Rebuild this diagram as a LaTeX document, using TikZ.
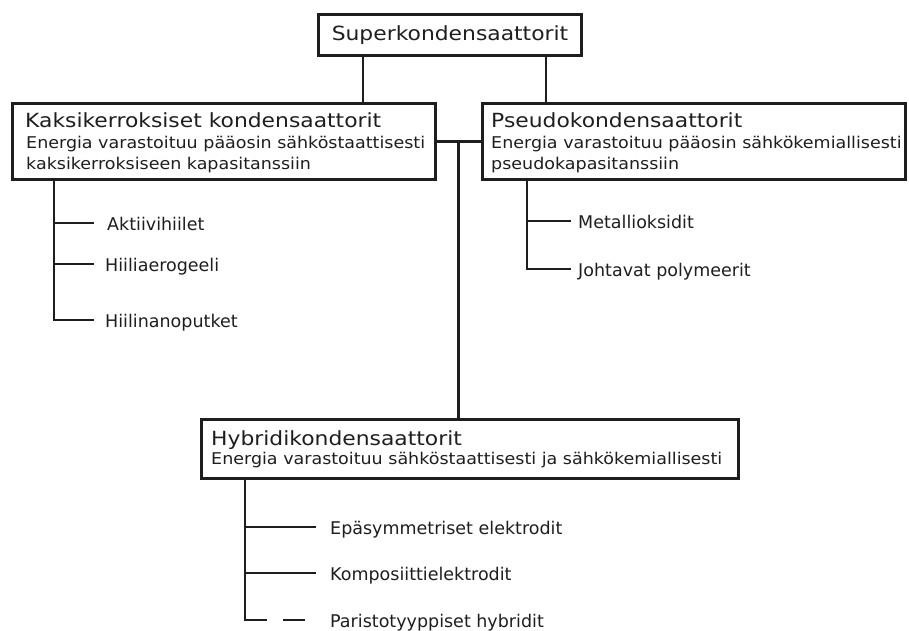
\documentclass[tikz,border=0pt]{standalone}
\usepackage{fontspec}
\usetikzlibrary{calc}
\newfontfamily\titlefont[FakeStretch=1.12]{DejaVu Sans}
\newfontfamily\subfont[FakeStretch=1.08]{DejaVu Sans}
\newfontfamily\leaffont{DejaVu Sans}
\definecolor{ink}{HTML}{1E1E1E}
\begin{document}
\begin{tikzpicture}[x=1pt,y=-1pt,
  box/.style={draw=ink, line width=3pt, rectangle, inner sep=0pt},
  ttl/.style={anchor=base west, inner sep=0pt, font=\fontsize{19.5}{21}\titlefont, text=ink},
  sub/.style={anchor=base west, inner sep=0pt, align=left, font=\fontsize{16.2}{21}\subfont, text=ink},
  leaf/.style={anchor=base west, inner sep=0pt, font=\fontsize{17.5}{21}\leaffont, text=ink},
  conn/.style={draw=ink, line width=2.7pt}]
\useasboundingbox (0,0) rectangle (909,630);

% boxes
\node[box, minimum width=263pt, minimum height=41pt, font=\fontsize{19.5}{21}\titlefont, text=ink] (super) at (450,35) {Superkondensaattorit};

\node[box, minimum width=423pt, minimum height=76pt] (kaksi) at (223.5,141.5) {};
\node[ttl] (kaksiT) at (25,127) {Kaksikerroksiset kondensaattorit};
\node[sub] (kaksiS) at (26,169) {Energia varastoituu pääosin sähköstaattisesti\\kaksikerroksiseen kapasitanssiin};

\node[box, minimum width=423pt, minimum height=76pt] (pseudo) at (693.5,141.5) {};
\node[ttl] (pseudoT) at (491,127) {Pseudokondensaattorit};
\node[sub] (pseudoS) at (491,169) {Energia varastoituu pääosin sähkökemiallisesti\\pseudokapasitanssiin};

\node[box, minimum width=537pt, minimum height=59pt] (hybrid) at (470,449) {};
\node[ttl] (hybridT) at (211,445) {Hybridikondensaattorit};
\node[sub] (hybridS) at (211,464) {Energia varastoituu sähköstaattisesti ja sähkökemiallisesti};

% leaves
\node[leaf] (l1) at (107,230) {Aktiivihiilet};
\node[leaf] (l2) at (105,271) {Hiiliaerogeeli};
\node[leaf] (l3) at (105,327) {Hiilinanoputket};
\node[leaf] (p1) at (578,228) {Metallioksidit};
\node[leaf] (p2) at (578,276) {Johtavat polymeerit};
\node[leaf] (h1) at (330,534) {Epäsymmetriset elektrodit};
\node[leaf] (h2) at (330,580) {Komposiittielektrodit};
\node[leaf] (h3) at (330,627) {Paristotyyppiset hybridit};

% helper coordinates
\coordinate (s1) at (363,0);
\coordinate (s2) at (546,0);
\coordinate (kx) at (54,0);
\coordinate (px) at (527,0);
\coordinate (hx) at (245,0);
\coordinate (j) at ($(kaksi.east)!0.5!(pseudo.west)$);
\coordinate (l1e) at ([xshift=-13pt,yshift=7pt]l1.base west);
\coordinate (l2e) at ([xshift=-11pt,yshift=7pt]l2.base west);
\coordinate (l3e) at ([xshift=-11pt,yshift=7pt]l3.base west);
\coordinate (p1e) at ([xshift=-7pt,yshift=7pt]p1.base west);
\coordinate (p2e) at ([xshift=-7pt,yshift=7pt]p2.base west);
\coordinate (h1e) at ([xshift=-14pt,yshift=7pt]h1.base west);
\coordinate (h2e) at ([xshift=-14pt,yshift=7pt]h2.base west);
\coordinate (h3e) at ([xshift=-25pt,yshift=7pt]h3.base west);

% top connectors
\draw[conn] (super.south -| s1) -- (kaksi.north -| s1);
\draw[conn] (super.south -| s2) -- (pseudo.north -| s2);
\draw[conn] (kaksi.east) -- (pseudo.west);
\draw[conn] (j) -- (hybrid.north -| j);

% double-layer branches
\draw[conn] (kaksi.south -| kx) |- (l3e);
\draw[conn] (kx |- l1e) -- (l1e);
\draw[conn] (kx |- l2e) -- (l2e);

% pseudo branches
\draw[conn] (pseudo.south -| px) |- (p2e);
\draw[conn] (px |- p1e) -- (p1e);

% hybrid branches
\draw[conn] (hybrid.south -| hx) |- ([xshift=-38pt]h3e);
\draw[conn] ([xshift=-22pt]h3e) -- (h3e);
\draw[conn] (hx |- h1e) -- (h1e);
\draw[conn] (hx |- h2e) -- (h2e);
\end{tikzpicture}
\end{document}
